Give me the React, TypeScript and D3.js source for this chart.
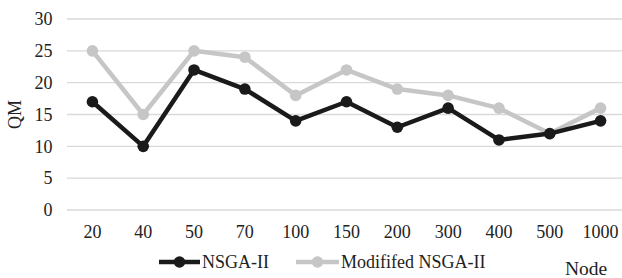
import React from 'react';
import * as d3 from 'd3';

const nodes = ['20', '40', '50', '70', '100', '150', '200', '300', '400', '500', '1000'];
const nsga = [17, 10, 22, 19, 14, 17, 13, 16, 11, 12, 14];
const modified = [25, 15, 25, 24, 18, 22, 19, 18, 16, 12, 16];
const yTicks = [0, 5, 10, 15, 20, 25, 30];

const font = '"Liberation Serif", "Times New Roman", serif';

export default function App() {
    const width = 622, height = 278;

    const x = d3.scaleBand<string>()
        .domain(nodes)
        .range([67, 626]);
    const y = d3.scaleLinear()
        .domain([0, 30])
        .range([210, 19]);

    const cx = (d: string) => (x(d) || 0) + x.bandwidth() / 2;

    const line = d3.line<number>()
        .x((d, i) => cx(nodes[i]))
        .y(d => y(d));

    const series = [
        { name: 'NSGA-II', values: nsga, color: '#1a1a1a' },
        { name: 'Modififed NSGA-II', values: modified, color: '#c6c6c6' },
    ];
    // gray first so black sits on top
    const drawOrder = [series[1], series[0]];

    const legend = [
        { s: series[0], x0: 159, x1: 200 },
        { s: series[1], x0: 296, x1: 339 },
    ];

    return (
        <svg width={width} height={height} style={{ position: 'absolute', left: 0, top: 0 }}>
            <g>
                {yTicks.map(t => (
                    <line key={t} x1={67} x2={622} y1={y(t)} y2={y(t)} stroke="#d9d9d9" strokeWidth={1.3} />
                ))}
                {yTicks.map(t => (
                    <text key={'l' + t} x={52.5} y={y(t)} dy="0.35em" textAnchor="end"
                        fontFamily={font} fontSize={18} fill="#222">{t}</text>
                ))}
                <text transform={`translate(15, ${y(15)}) rotate(-90)`} dy="0.35em" textAnchor="middle"
                    fontFamily={font} fontSize={18} fill="#222">QM</text>
            </g>
            <g>
                {nodes.map(n => (
                    <text key={n} x={cx(n)} y={232} dy="0.35em" textAnchor="middle"
                        fontFamily={font} fontSize={18} fill="#222">{n}</text>
                ))}
            </g>
            {drawOrder.map(s => (
                <g key={s.name}>
                    <path d={line(s.values) || ''} fill="none" stroke={s.color} strokeWidth={4.5} strokeLinejoin="round" />
                    {s.values.map((v, i) => (
                        <circle key={i} cx={cx(nodes[i])} cy={y(v)} r={5.8} fill={s.color} />
                    ))}
                </g>
            ))}
            <g>
                {legend.map(l => (
                    <g key={l.s.name}>
                        <line x1={l.x0} x2={l.x1} y1={262} y2={262} stroke={l.s.color} strokeWidth={4.5} />
                        <circle cx={(l.x0 + l.x1) / 2} cy={262} r={5.8} fill={l.s.color} />
                        <text x={l.x1 + 2} y={262} dy="0.35em" fontFamily={font} fontSize={18} fill="#222">{l.s.name}</text>
                    </g>
                ))}
                <text x={586} y={268} dy="0.35em" textAnchor="middle" fontFamily={font} fontSize={19.5} fill="#222">Node</text>
            </g>
        </svg>
    );
}
